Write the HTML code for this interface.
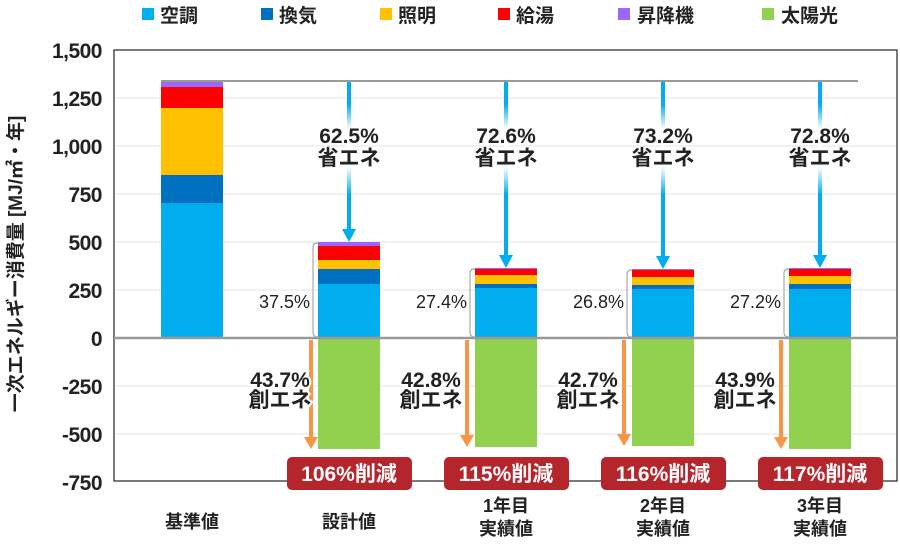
<!DOCTYPE html>
<html><head><meta charset="utf-8"><style>
body{margin:0;background:#fff;}
svg{display:block;font-family:"Liberation Sans","Noto Sans CJK JP",sans-serif;font-weight:bold;}
</style></head><body>
<svg width="900" height="545" viewBox="0 0 900 545" xmlns="http://www.w3.org/2000/svg">
<defs>
<linearGradient id="ga" gradientUnits="userSpaceOnUse" x1="0" y1="82" x2="0" y2="270">
<stop offset="0" stop-color="#00aeef"/><stop offset="0.12" stop-color="#00aeef"/><stop offset="0.25" stop-color="#ffffff"/><stop offset="0.45" stop-color="#ffffff"/><stop offset="0.6" stop-color="#00aeef"/><stop offset="1" stop-color="#00aeef"/>
</linearGradient>
</defs>
<!-- legend -->
<g font-size="19" fill="#222">
<rect x="142" y="8" width="12" height="12" fill="#00aeef"/><text x="160" y="22">空調</text>
<rect x="261" y="8" width="12" height="12" fill="#0070c0"/><text x="279" y="22">換気</text>
<rect x="380" y="8" width="12" height="12" fill="#ffc000"/><text x="398" y="22">照明</text>
<rect x="498" y="8" width="12" height="12" fill="#ff0000"/><text x="516" y="22">給湯</text>
<rect x="618" y="8" width="12" height="12" fill="#9966ff"/><text x="637" y="22">昇降機</text>
<rect x="762" y="8" width="12" height="12" fill="#92d050"/><text x="781" y="22">太陽光</text>
</g>
<!-- gridlines -->
<g stroke="#e6e6e6" stroke-width="1">
<line x1="114" x2="897" y1="98" y2="98"/><line x1="114" x2="897" y1="146" y2="146"/>
<line x1="114" x2="897" y1="194" y2="194"/><line x1="114" x2="897" y1="242" y2="242"/>
<line x1="114" x2="897" y1="290" y2="290"/><line x1="114" x2="897" y1="386" y2="386"/>
<line x1="114" x2="897" y1="434" y2="434"/>
</g>
<rect x="114" y="50" width="783" height="431" fill="none" stroke="#222" stroke-width="1.2"/>
<!-- y labels -->
<g font-size="21" fill="#222" text-anchor="end" letter-spacing="-0.5">
<text x="102" y="58">1,500</text><text x="102" y="106">1,250</text><text x="102" y="154">1,000</text>
<text x="102" y="202">750</text><text x="102" y="250">500</text><text x="102" y="298">250</text>
<text x="102" y="346">0</text><text x="102" y="394">-250</text><text x="102" y="442">-500</text>
<text x="102" y="490">-750</text>
</g>
<text transform="translate(22,264) rotate(-90)" font-size="19" fill="#222" text-anchor="middle">一次エネルギー消費量 [MJ/㎡・年]</text>
<!-- base bar -->
<rect x="161" y="203" width="62" height="135" fill="#00aeef"/>
<rect x="161" y="175" width="62" height="28" fill="#0070c0"/>
<rect x="161" y="108" width="62" height="67" fill="#ffc000"/>
<rect x="161" y="87" width="62" height="21" fill="#ff0000"/>
<rect x="161" y="81" width="62" height="6" fill="#9966ff"/>
<line x1="161" x2="858" y1="81" y2="81" stroke="#999" stroke-width="2"/>
<!-- design -->
<rect x="318" y="284" width="62" height="54" fill="#00aeef"/>
<rect x="318" y="269" width="62" height="15" fill="#0070c0"/>
<rect x="318" y="260" width="62" height="9" fill="#ffc000"/>
<rect x="318" y="246" width="62" height="14" fill="#ff0000"/>
<rect x="318" y="242" width="62" height="4" fill="#9966ff"/>
<rect x="318" y="338" width="62" height="111" fill="#92d050"/>
<!-- y1 -->
<rect x="475" y="288" width="62" height="50" fill="#00aeef"/>
<rect x="475" y="284" width="62" height="4" fill="#0070c0"/>
<rect x="475" y="275" width="62" height="9" fill="#ffc000"/>
<rect x="475" y="269" width="62" height="6" fill="#ff0000"/>
<rect x="475" y="268" width="62" height="1" fill="#9966ff"/>
<rect x="475" y="338" width="62" height="109" fill="#92d050"/>
<!-- y2 -->
<rect x="632" y="289" width="62" height="49" fill="#00aeef"/>
<rect x="632" y="285" width="62" height="4" fill="#0070c0"/>
<rect x="632" y="277" width="62" height="8" fill="#ffc000"/>
<rect x="632" y="270" width="62" height="7" fill="#ff0000"/>
<rect x="632" y="269" width="62" height="1" fill="#9966ff"/>
<rect x="632" y="338" width="62" height="108" fill="#92d050"/>
<!-- y3 -->
<rect x="789" y="289" width="62" height="49" fill="#00aeef"/>
<rect x="789" y="284" width="62" height="5" fill="#0070c0"/>
<rect x="789" y="276" width="62" height="8" fill="#ffc000"/>
<rect x="789" y="269" width="62" height="7" fill="#ff0000"/>
<rect x="789" y="268" width="62" height="1" fill="#9966ff"/>
<rect x="789" y="338" width="62" height="111" fill="#92d050"/>
<line x1="114" x2="897" y1="338" y2="338" stroke="#999" stroke-width="2.5"/>
<!-- brackets -->
<g fill="none" stroke="#aaa" stroke-width="1.2">
<path d="M318 243 H317 Q313 243 313 248 V332 Q313 337 318 337"/>
<path d="M475 269 H474 Q470 269 470 274 V332 Q470 337 475 337"/>
<path d="M632 270 H631 Q627 270 627 275 V332 Q627 337 632 337"/>
<path d="M789 269 H788 Q784 269 784 274 V332 Q784 337 789 337"/>
</g>
<g font-size="18" fill="#222" font-weight="normal" text-anchor="end">
<text x="310" y="308">37.5%</text><text x="467" y="308">27.4%</text>
<text x="624" y="308">26.8%</text><text x="781" y="308">27.2%</text>
</g>
<!-- cyan arrows -->
<g>
<rect x="347" y="82" width="4" height="148" fill="url(#ga)"/><polygon points="342,229 356,229 349,242" fill="#00aeef"/>
<rect x="504" y="82" width="4" height="174" fill="url(#ga)"/><polygon points="499,255 513,255 506,268" fill="#00aeef"/>
<rect x="661" y="82" width="4" height="175" fill="url(#ga)"/><polygon points="656,256 670,256 663,269" fill="#00aeef"/>
<rect x="818" y="82" width="4" height="174" fill="url(#ga)"/><polygon points="813,255 827,255 820,268" fill="#00aeef"/>
</g>
<g font-size="21" fill="#222" text-anchor="middle">
<text x="349" y="143">62.5%</text><text x="349" y="165">省エネ</text>
<text x="506" y="143">72.6%</text><text x="506" y="165">省エネ</text>
<text x="663" y="143">73.2%</text><text x="663" y="165">省エネ</text>
<text x="820" y="143">72.8%</text><text x="820" y="165">省エネ</text>
</g>
<!-- orange arrows -->
<g fill="#f79646">
<rect x="309" y="340" width="4" height="98"/><polygon points="304,437 318,437 311,449"/>
<rect x="465" y="340" width="4" height="96"/><polygon points="460,435 474,435 467,447"/>
<rect x="622" y="340" width="4" height="95"/><polygon points="617,434 631,434 624,446"/>
<rect x="779" y="340" width="4" height="98"/><polygon points="774,437 788,437 781,449"/>
</g>
<g font-size="21" fill="#222" text-anchor="middle" stroke="#fff" stroke-width="4" paint-order="stroke">
<text x="280" y="387">43.7%</text><text x="280" y="407">創エネ</text>
<text x="431" y="387">42.8%</text><text x="431" y="407">創エネ</text>
<text x="588" y="387">42.7%</text><text x="588" y="407">創エネ</text>
<text x="745" y="387">43.9%</text><text x="745" y="407">創エネ</text>
</g>
<!-- badges -->
<g>
<rect x="287" y="457" width="125" height="33" rx="5" fill="#b5252c"/>
<rect x="444" y="457" width="125" height="33" rx="5" fill="#b5252c"/>
<rect x="601" y="457" width="125" height="33" rx="5" fill="#b5252c"/>
<rect x="758" y="457" width="125" height="33" rx="5" fill="#b5252c"/>
</g>
<g font-size="21" fill="#fff" text-anchor="middle">
<text x="349" y="481">106%削減</text><text x="506" y="481">115%削減</text>
<text x="663" y="481">116%削減</text><text x="820" y="481">117%削減</text>
</g>
<!-- categories -->
<g font-size="18" fill="#222" text-anchor="middle">
<text x="192" y="528">基準値</text>
<text x="349" y="528">設計値</text>
<text x="506" y="512">1年目</text><text x="506" y="535">実績値</text>
<text x="663" y="512">2年目</text><text x="663" y="535">実績値</text>
<text x="820" y="512">3年目</text><text x="820" y="535">実績値</text>
</g>
</svg>
</body></html>
